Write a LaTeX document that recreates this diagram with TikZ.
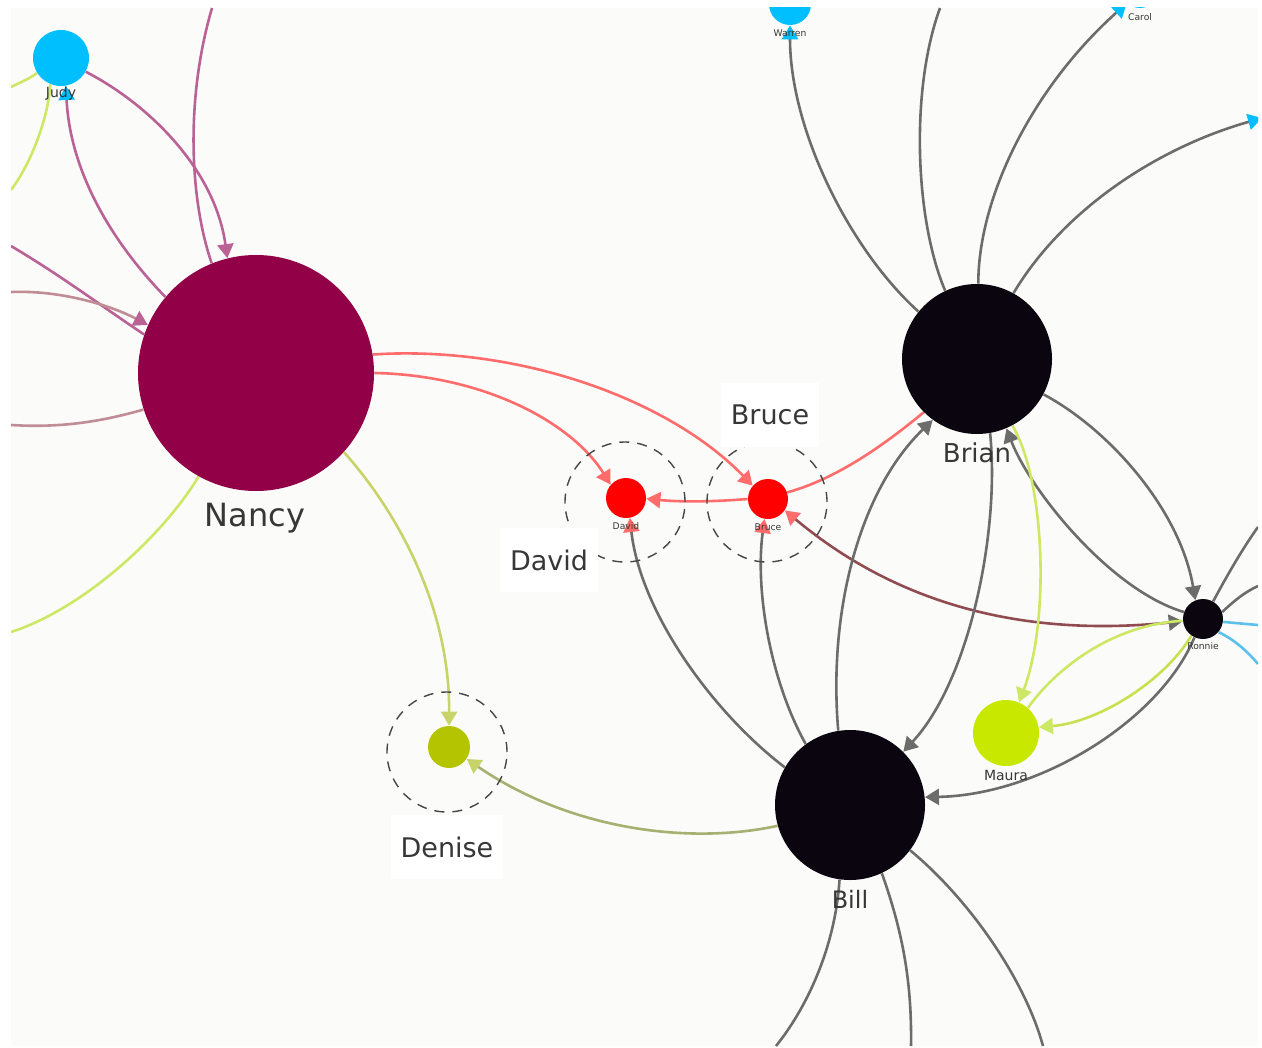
\documentclass[tikz,border=0pt]{standalone}
\usepackage{fontspec}
\setmainfont{DejaVu Sans}
\usetikzlibrary{arrows.meta}
\definecolor{panelbg}{RGB}{251,251,249}
\definecolor{nancyc}{RGB}{146,0,71}
\definecolor{darkc}{RGB}{10,5,14}
\definecolor{skyc}{RGB}{0,191,255}
\definecolor{limec}{RGB}{200,232,0}
\definecolor{olivec}{RGB}{181,196,0}
\definecolor{redc}{RGB}{255,0,0}
\definecolor{graylink}{RGB}{108,108,108}
\definecolor{pinklink}{RGB}{186,98,150}
\definecolor{redlink}{RGB}{255,108,108}
\definecolor{greenlink}{RGB}{205,232,100}
\definecolor{paleolive}{RGB}{200,212,106}
\definecolor{tanlink}{RGB}{192,140,150}
\definecolor{brownlink}{RGB}{145,76,82}
\definecolor{mosslink}{RGB}{167,176,112}
\definecolor{bluelink}{RGB}{91,192,235}
\definecolor{ringgray}{RGB}{70,70,70}
\definecolor{labelgray}{RGB}{55,55,55}
\pgfdeclarelayer{panel}
\pgfdeclarelayer{edges}
\pgfsetlayers{panel,edges,main}
\begin{document}
\begin{tikzpicture}[x=0.5pt,y=-0.5pt,
  vertex/.style={circle,inner sep=0pt,draw=none},
  ring/.style={circle,draw=ringgray,dash pattern=on 5pt off 4pt,line width=0.7pt,inner sep=0pt,minimum size=60pt},
  edgeline/.style={line width=1.3pt,draw=#1},
  arrowto/.style={-{Triangle[length=7pt,width=8pt,color=#1]}},
  namelabel/.style={text=labelgray,inner sep=0pt,font=\fontsize{#1}{#1}\selectfont},
  biglabel/.style={fill=white,text=labelgray,inner xsep=5pt,minimum height=32pt,font=\fontsize{13.5}{16}\selectfont}]
\useasboundingbox (0,0) rectangle (1262,1048);
\begin{pgfonlayer}{panel}
\fill[white] (0,0) rectangle (1262,1048);
\fill[panelbg] (11,8) rectangle (1258,1046);
\end{pgfonlayer}
\clip (11,8) rectangle (1258,1046);
% people
\node[vertex,fill=nancyc,minimum size=118pt] (nancy) at (256,373) {};
\node[vertex,fill=darkc,minimum size=75pt] (brian) at (977,359) {};
\node[vertex,fill=darkc,minimum size=75pt] (bill) at (850,805) {};
\node[vertex,fill=darkc,minimum size=20pt] (ronnie) at (1203,619) {};
\node[vertex,fill=limec,minimum size=33pt] (maura) at (1006,733) {};
\node[vertex,fill=skyc,minimum size=28pt] (judy) at (61,58) {};
\node[vertex,fill=skyc,minimum size=21pt] (warren) at (790,4) {};
\node[vertex,fill=skyc,minimum size=20pt] (carol) at (1140,-12) {};
\node[vertex,fill=redc,minimum size=20pt] (david) at (626,498) {};
\node[vertex,fill=redc,minimum size=20pt] (bruce) at (768,499) {};
\node[vertex,fill=olivec,minimum size=21pt] (denise) at (449,747) {};
% free ends at the border
\coordinate (ntop) at (212,8);
\coordinate (nw1) at (11,246);
\coordinate (nw2) at (11,292);
\coordinate (nw3) at (11,425);
\coordinate (nsw) at (11,632);
\coordinate (jw) at (11,87);
\coordinate (jsw) at (11,190);
\coordinate (btop) at (940,8);
\coordinate (bright) at (1262,118);
\coordinate (bsw) at (776,1046);
\coordinate (bs) at (911,1046);
\coordinate (bse) at (1043,1046);
\coordinate (re1) at (1258,527);
\coordinate (re2) at (1258,586);
\coordinate (re3) at (1258,625);
\coordinate (re4) at (1258,664);
\begin{pgfonlayer}{edges}
\clip (11,8) rectangle (1258,1046);
% around Nancy
\draw[edgeline=pinklink,arrowto=pinklink] (judy.-29) .. controls (150,105) and (215,170) .. (nancy.104);
\draw[edgeline=pinklink,arrowto=skyc] (nancy.140) .. controls (110,240) and (70,170) .. (judy.-80);
\draw[edgeline=pinklink] (ntop) .. controls (185,100) and (190,200) .. (nancy.112);
\draw[edgeline=pinklink] (nw1) .. controls (60,275) and (100,305) .. (nancy.161);
\draw[edgeline=tanlink,arrowto=pinklink] (nw2) .. controls (60,290) and (110,305) .. (nancy.156);
\draw[edgeline=tanlink] (nancy.198) .. controls (100,422) and (60,428) .. (nw3);
\draw[edgeline=greenlink] (nancy.241) .. controls (160,540) and (80,610) .. (nsw);
\draw[edgeline=greenlink] (judy.212) .. controls (30,78) .. (jw);
\draw[edgeline=greenlink] (judy.-112) .. controls (48,120) and (30,165) .. (jsw);
\draw[edgeline=redlink,arrowto=redlink] (nancy.0) .. controls (480,375) and (570,420) .. (david.139);
\draw[edgeline=redlink,arrowto=redlink] (nancy.9) .. controls (520,345) and (670,400) .. (bruce.139);
\draw[edgeline=paleolive,arrowto=paleolive] (nancy.-42.6) .. controls (400,515) and (450,610) .. (denise.90);
% David and Bruce
\draw[edgeline=redlink,arrowto=redlink] (bruce.180) .. controls (710,502) and (680,502) .. (david.-2);
\draw[edgeline=redlink] (brian.-135) .. controls (890,440) and (840,478) .. (bruce.19);
\draw[edgeline=brownlink,{Triangle[length=7pt,width=8pt,color=graylink]}-{Triangle[length=7pt,width=8pt,color=redlink]}] (ronnie.186) .. controls (1000,640) and (880,590) .. (bruce.-34);
\draw[edgeline=graylink,arrowto=redlink] (bill.150) .. controls (710,710) and (640,610) .. (david.-79);
\draw[edgeline=graylink,arrowto=redlink] (bill.126) .. controls (770,680) and (755,590) .. (bruce.-100);
\draw[edgeline=mosslink,arrowto=paleolive] (bill.196) .. controls (690,845) and (570,830) .. (denise.-34);
% Brian
\draw[edgeline=graylink,arrowto=skyc] (brian.141.5) .. controls (850,250) and (790,130) .. (warren.-90);
\draw[edgeline=graylink] (brian.115) .. controls (915,220) and (910,90) .. (btop);
\draw[edgeline=graylink,arrowto=skyc] (brian.89) .. controls (978,200) and (1030,90) .. (carol.-131);
\draw[edgeline=graylink,arrowto=skyc] (brian.61) .. controls (1060,215) and (1150,150) .. (bright);
\draw[edgeline=graylink,arrowto=graylink] (brian.-28) .. controls (1110,430) and (1180,510) .. (ronnie.112);
\draw[edgeline=graylink,arrowto=graylink] (ronnie.160) .. controls (1110,590) and (1030,490) .. (brian.-67);
\draw[edgeline=greenlink,arrowto=greenlink] (brian.-62) .. controls (1045,480) and (1050,620) .. (maura.67);
\draw[edgeline=graylink,arrowto=graylink] (brian.-80) .. controls (1000,530) and (970,680) .. (bill.45);
\draw[edgeline=graylink,arrowto=graylink] (bill.99) .. controls (828,610) and (860,490) .. (brian.-126);
% Ronnie and Maura
\draw[edgeline=greenlink] (ronnie.185) .. controls (1110,625) and (1055,670) .. (maura.49);
\draw[edgeline=greenlink!80!olivec,arrowto=greenlink] (ronnie.-125) .. controls (1165,680) and (1100,722) .. (maura.10);
\draw[edgeline=graylink,arrowto=graylink] (ronnie.-115) .. controls (1160,720) and (1040,795) .. (bill.6);
\draw[edgeline=graylink] (ronnie.60) .. controls (1230,570) and (1245,545) .. (re1);
\draw[edgeline=graylink] (ronnie.20) .. controls (1235,600) and (1245,592) .. (re2);
\draw[edgeline=bluelink] (ronnie.-8) .. controls (1235,623) .. (re3);
\draw[edgeline=bluelink] (ronnie.-40) .. controls (1235,640) and (1248,652) .. (re4);
% Bill downwards
\draw[edgeline=graylink] (bill.-98) .. controls (835,950) and (805,1010) .. (bsw);
\draw[edgeline=graylink] (bill.-65) .. controls (902,930) and (912,980) .. (bs);
\draw[edgeline=graylink] (bill.-37) .. controls (970,900) and (1025,980) .. (bse);
\end{pgfonlayer}
% dashed rings
\node[ring] (davidring) at (625,502) {};
\node[ring] (brucering) at (767,502) {};
\node[ring] (denisering) at (447,752) {};
% names
\node[namelabel=16,anchor=base] (nancylbl) at (255,526) {Nancy};
\node[namelabel=13,anchor=base] (brianlbl) at (977,462) {Brian};
\node[namelabel=12,anchor=base] (billlbl) at (850,908) {Bill};
\node[namelabel=7] (judylbl) at (61,94) {Judy};
\node[namelabel=7] (mauralbl) at (1006,775) {Maura};
\node[namelabel=4.6] (warrenlbl) at (790,33) {Warren};
\node[namelabel=4.6] (carollbl) at (1140,17) {Carol};
\node[namelabel=4.6] (davidlbl) at (626,526) {David};
\node[namelabel=4.6] (brucelbl) at (768,527) {Bruce};
\node[namelabel=4.6] (ronnielbl) at (1203,646) {Ronnie};
\node[biglabel] (brucebox) at (770,415) {Bruce};
\node[biglabel] (davidbox) at (549,560) {David};
\node[biglabel] (denisebox) at (447,847) {Denise};
\end{tikzpicture}
\end{document}
